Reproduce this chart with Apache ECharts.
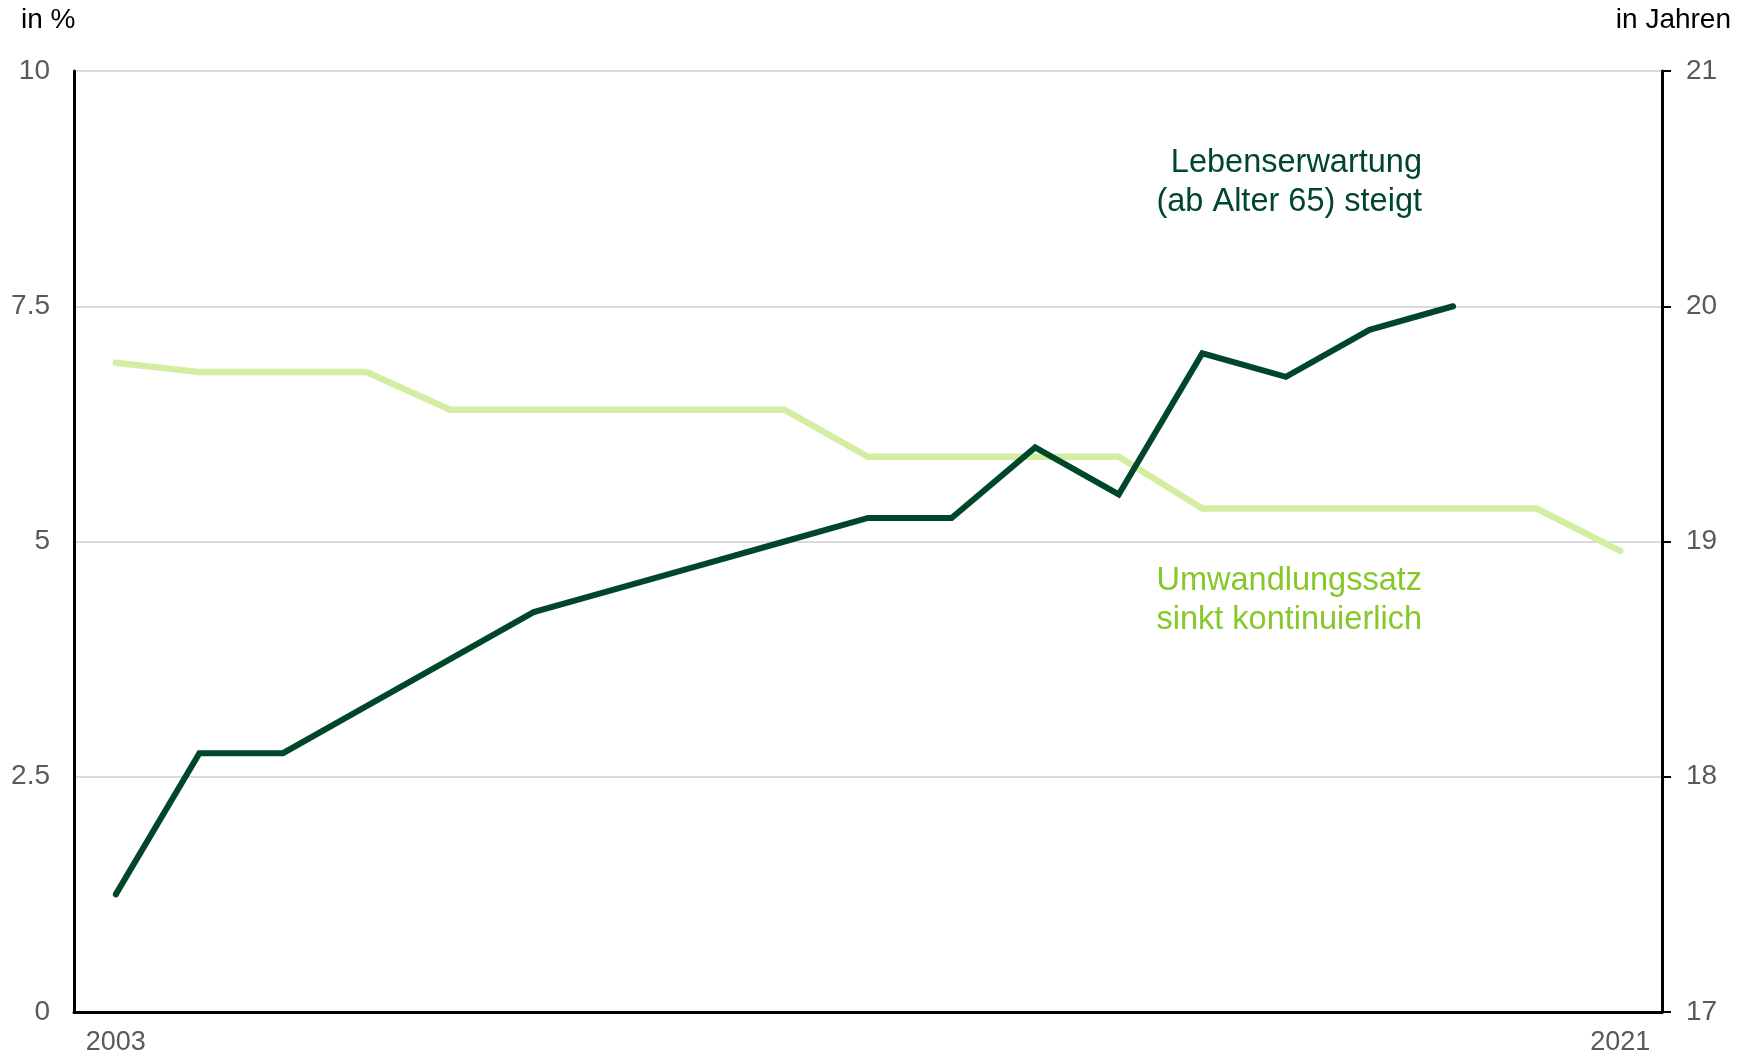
<!DOCTYPE html>
<html>
<head>
<meta charset="utf-8">
<script src="https://cdn.jsdelivr.net/npm/echarts@6/dist/echarts.min.js"></script>
<style>
  html, body { margin: 0; padding: 0; background: #fff; }
  #chart { width: 1743px; height: 1058px; }
</style>
</head>
<body>
<div id="chart"></div>
<script>
// Jahre 2003 - 2021
const years = ['2003', '2004', '2005', '2006', '2007', '2008', '2009', '2010', '2011', '2012',
  '2013', '2014', '2015', '2016', '2017', '2018', '2019', '2020', '2021']

// Umwandlungssatz in % (linke Achse)
const umwandlungssatz = [6.9, 6.8, 6.8, 6.8, 6.4, 6.4, 6.4, 6.4, 6.4, 5.9,
  5.9, 5.9, 5.9, 5.35, 5.35, 5.35, 5.35, 5.35, 4.9]

// Lebenserwartung ab Alter 65 in Jahren (rechte Achse)
const lebenserwartung = [17.5, 18.1, 18.1, 18.3, 18.5, 18.7, 18.8, 18.9, 19.0, 19.1,
  19.1, 19.4, 19.2, 19.8, 19.7, 19.9, 20.0, null, null]

const leftTicks = [0, 10, 2.5]   // min, max, interval
const rightTicks = [17, 21, 1]

const dunkelgruen = '#00472a'
const hellgruen = '#d3eea3'
const textHell = '#86c82a'
const font = '"Liberation Sans", Arial, sans-serif'

const chart = echarts.init(document.getElementById('chart'), null, { renderer: 'canvas' })

const option = {
  animation: false,
  backgroundColor: '#fff',
  grid: {
    left: 74,
    right: 81,
    top: 71,
    bottom: 46
  },
  xAxis: {
    type: 'category',
    data: years,
    boundaryGap: true,
    axisLine: { lineStyle: { color: '#000', width: 3 } },
    axisTick: { show: false },
    axisLabel: {
      color: '#595959',
      fontSize: 27,
      fontFamily: font,
      margin: 17,
      interval: (i) => i === 0 || i === years.length - 1
    }
  },
  yAxis: [
    {
      type: 'value',
      min: leftTicks[0],
      max: leftTicks[1],
      interval: leftTicks[2],
      axisLine: { show: true, lineStyle: { color: '#000', width: 3 } },
      axisTick: { show: false },
      axisLabel: { color: '#595959', fontSize: 28, fontFamily: font, margin: 24 },
      splitLine: { lineStyle: { color: '#d9d9d9', width: 2 } }
    },
    {
      type: 'value',
      min: rightTicks[0],
      max: rightTicks[1],
      interval: rightTicks[2],
      position: 'right',
      axisLine: { show: true, lineStyle: { color: '#000', width: 3 } },
      axisTick: { show: true, length: 9, lineStyle: { color: '#000', width: 2 } },
      axisLabel: { color: '#595959', fontSize: 28, fontFamily: font, margin: 24 },
      splitLine: { show: false }
    }
  ],
  series: [
    {
      name: 'Umwandlungssatz',
      type: 'line',
      yAxisIndex: 0,
      data: umwandlungssatz,
      showSymbol: false,
      lineStyle: { color: hellgruen, width: 6.5, cap: 'round', join: 'miter' },
      itemStyle: { color: hellgruen }
    },
    {
      name: 'Lebenserwartung',
      type: 'line',
      yAxisIndex: 1,
      data: lebenserwartung,
      showSymbol: false,
      lineStyle: { color: dunkelgruen, width: 6, cap: 'round', join: 'miter' },
      itemStyle: { color: dunkelgruen }
    }
  ],
  graphic: [
    {
      type: 'text',
      left: 21,
      top: 6,
      style: { text: 'in %', fill: '#000', font: '28px ' + font }
    },
    {
      type: 'text',
      right: 12,
      top: 6,
      style: { text: 'in Jahren', fill: '#000', font: '28px ' + font }
    },
    {
      type: 'text',
      x: 1422,
      y: 144,
      style: {
        text: 'Lebenserwartung\n(ab Alter 65) steigt',
        fill: dunkelgruen,
        font: '32.5px ' + font,
        align: 'right',
        lineHeight: 39
      }
    },
    {
      type: 'text',
      x: 1422,
      y: 562,
      style: {
        text: 'Umwandlungssatz\nsinkt kontinuierlich',
        fill: textHell,
        font: '32.5px ' + font,
        align: 'right',
        lineHeight: 39
      }
    }
  ]
}

chart.setOption(option)
</script>
</body>
</html>
